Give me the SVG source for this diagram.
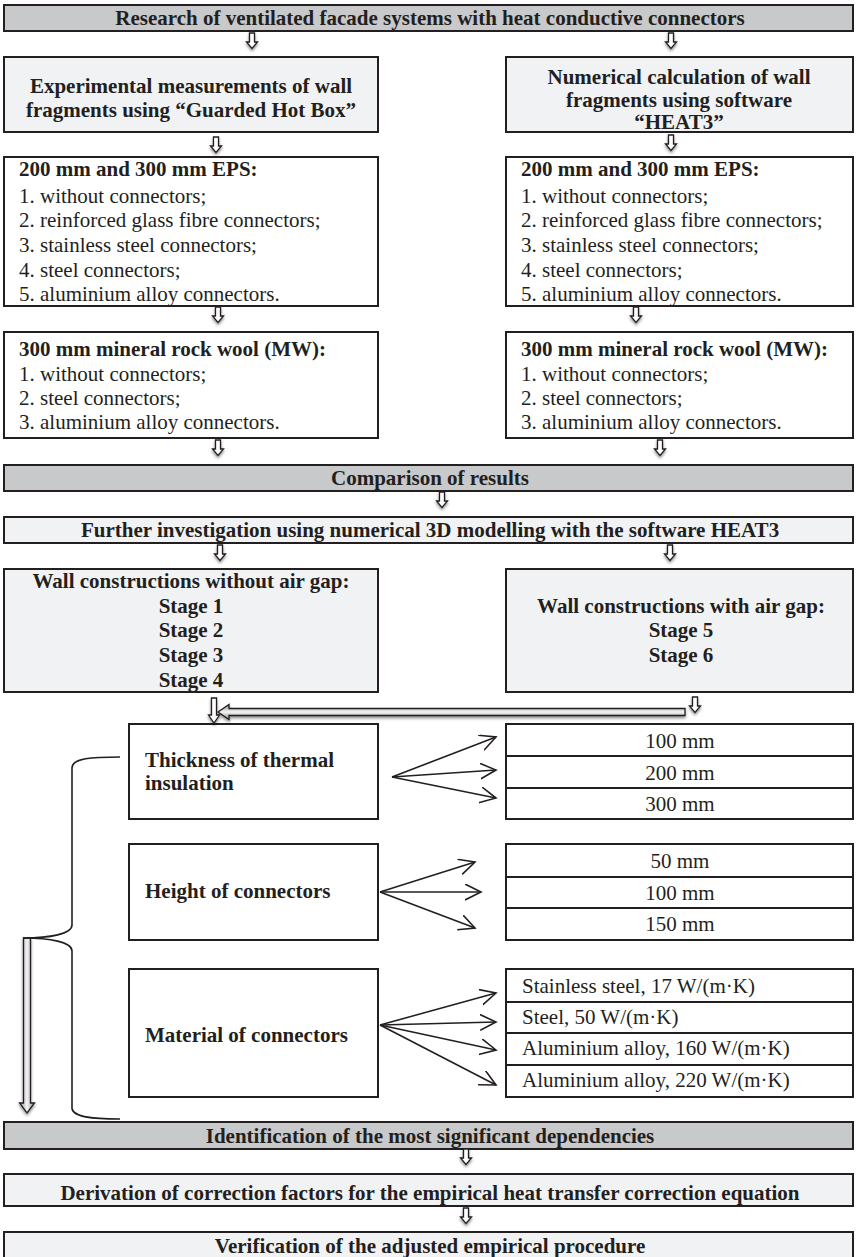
<svg xmlns="http://www.w3.org/2000/svg" xmlns:xlink="http://www.w3.org/1999/xlink" width="856" height="1257" viewBox="0 0 856 1257">
<style>
.grey{fill:#c8c9cb;stroke:#231f20;stroke-width:2}
.light{fill:#f1f2f4;stroke:#231f20;stroke-width:2}
.white{fill:#fff;stroke:#231f20;stroke-width:2}
.b{font-family:"Liberation Serif","Times New Roman",serif;font-weight:bold;font-size:21px;fill:#231f20}
.n{font-family:"Liberation Serif","Times New Roman",serif;font-size:21px;fill:#231f20}
.c{text-anchor:middle}
.fan{fill:none;stroke:#231f20;stroke-width:1.6;marker-end:url(#open)}
</style>
<defs>
<filter id="sh" x="-50%" y="-50%" width="200%" height="200%">
<feDropShadow dx="0" dy="2" stdDeviation="1.5" flood-color="#000" flood-opacity="0.45"/>
</filter>
<path id="da" d="M-2.5,0 h5 v9 h3 l-5.5,6.5 l-5.5,-6.5 h3 z" fill="#fff" stroke="#231f20" stroke-width="1.3"/>
<marker id="open" viewBox="0 0 18 18" refX="16" refY="8" markerWidth="18" markerHeight="18" markerUnits="userSpaceOnUse" orient="auto">
<path d="M0,0 L16,8 L0,16" fill="none" stroke="#231f20" stroke-width="1.6"/>
</marker>
<linearGradient id="hg" x1="0" y1="0" x2="0" y2="1">
<stop offset="0" stop-color="#8a8b8d"/><stop offset="0.5" stop-color="#f4f4f4"/><stop offset="1" stop-color="#8a8b8d"/>
</linearGradient>
<linearGradient id="vg" x1="0" y1="0" x2="1" y2="0">
<stop offset="0" stop-color="#8a8b8d"/><stop offset="0.5" stop-color="#f4f4f4"/><stop offset="1" stop-color="#8a8b8d"/>
</linearGradient>
</defs>

<g id="n-research"><rect class="grey" x="4" y="5" width="849" height="26"/><text class="b c" x="430" y="25">Research of ventilated facade systems with heat conductive connectors</text></g>

<g id="n-experimental"><rect class="light" x="4" y="57" width="374" height="75"/><text class="b c" x="191" y="93">Experimental measurements of wall</text><text class="b c" x="191" y="117">fragments using “Guarded Hot Box”</text></g>
<g id="n-numerical"><rect class="light" x="506" y="57" width="347" height="75"/><text class="b c" x="679" y="84">Numerical calculation of wall</text><text class="b c" x="679" y="107">fragments using software</text><text class="b c" x="679" y="129">“HEAT3”</text></g>

<g id="n-eps-left"><rect class="white" x="4" y="157" width="374" height="149"/>
<text class="b" x="19" y="176">200 mm and 300 mm EPS:</text>
<text class="n" x="19" y="203">1. without connectors;</text>
<text class="n" x="19" y="227">2. reinforced glass fibre connectors;</text>
<text class="n" x="19" y="252">3. stainless steel connectors;</text>
<text class="n" x="19" y="277">4. steel connectors;</text>
<text class="n" x="19" y="301">5. aluminium alloy connectors.</text></g>
<g id="n-eps-right"><rect class="white" x="506" y="157" width="347" height="149"/>
<text class="b" x="521" y="176">200 mm and 300 mm EPS:</text>
<text class="n" x="521" y="203">1. without connectors;</text>
<text class="n" x="521" y="227">2. reinforced glass fibre connectors;</text>
<text class="n" x="521" y="252">3. stainless steel connectors;</text>
<text class="n" x="521" y="277">4. steel connectors;</text>
<text class="n" x="521" y="301">5. aluminium alloy connectors.</text></g>

<g id="n-mw-left"><rect class="white" x="4" y="332" width="374" height="106"/>
<text class="b" x="19" y="356">300 mm mineral rock wool (MW):</text>
<text class="n" x="19" y="381">1. without connectors;</text>
<text class="n" x="19" y="405">2. steel connectors;</text>
<text class="n" x="19" y="429">3. aluminium alloy connectors.</text></g>
<g id="n-mw-right"><rect class="white" x="506" y="332" width="347" height="106"/>
<text class="b" x="521" y="356">300 mm mineral rock wool (MW):</text>
<text class="n" x="521" y="381">1. without connectors;</text>
<text class="n" x="521" y="405">2. steel connectors;</text>
<text class="n" x="521" y="429">3. aluminium alloy connectors.</text></g>

<g id="n-comparison"><rect class="grey" x="4" y="465" width="849" height="26"/><text class="b c" x="430" y="485">Comparison of results</text></g>
<g id="n-further"><rect class="light" x="4" y="517" width="849" height="26"/><text class="b c" x="430" y="537">Further investigation using numerical 3D modelling with the software HEAT3</text></g>

<g id="n-without"><rect class="light" x="4" y="569" width="374" height="123"/>
<text class="b c" x="191" y="588">Wall constructions without air gap:</text>
<text class="b c" x="191" y="613">Stage 1</text><text class="b c" x="191" y="637">Stage 2</text><text class="b c" x="191" y="662">Stage 3</text><text class="b c" x="191" y="687">Stage 4</text></g>
<g id="n-with"><rect class="light" x="506" y="569" width="347" height="123"/>
<text class="b c" x="681" y="613">Wall constructions with air gap:</text>
<text class="b c" x="681" y="637">Stage 5</text><text class="b c" x="681" y="662">Stage 6</text></g>

<g id="n-thickness"><rect class="white" x="129" y="724" width="249" height="95"/><text class="b" x="145" y="767">Thickness of thermal</text><text class="b" x="145" y="790">insulation</text></g>
<g id="n-height"><rect class="white" x="129" y="844" width="249" height="96"/><text class="b" x="145" y="898">Height of connectors</text></g>
<g id="n-material"><rect class="white" x="129" y="969" width="249" height="128"/><text class="b" x="145" y="1042">Material of connectors</text></g>

<g id="n-thickness-values"><rect class="white" x="506" y="724" width="347" height="95"/>
<line x1="506" y1="756" x2="853" y2="756" stroke="#231f20" stroke-width="2"/><line x1="506" y1="788" x2="853" y2="788" stroke="#231f20" stroke-width="2"/>
<text class="n c" x="680" y="748">100 mm</text><text class="n c" x="680" y="780">200 mm</text><text class="n c" x="680" y="811">300 mm</text></g>
<g id="n-height-values"><rect class="white" x="506" y="844" width="347" height="96"/>
<line x1="506" y1="877" x2="853" y2="877" stroke="#231f20" stroke-width="2"/><line x1="506" y1="908" x2="853" y2="908" stroke="#231f20" stroke-width="2"/>
<text class="n c" x="680" y="868">50 mm</text><text class="n c" x="680" y="900">100 mm</text><text class="n c" x="680" y="931">150 mm</text></g>
<g id="n-material-values"><rect class="white" x="506" y="969" width="347" height="128"/>
<line x1="506" y1="1002" x2="853" y2="1002" stroke="#231f20" stroke-width="2"/><line x1="506" y1="1033" x2="853" y2="1033" stroke="#231f20" stroke-width="2"/><line x1="506" y1="1065" x2="853" y2="1065" stroke="#231f20" stroke-width="2"/>
<text class="n" x="522" y="993">Stainless steel, 17 W/(m·K)</text><text class="n" x="522" y="1024">Steel, 50 W/(m·K)</text><text class="n" x="522" y="1055">Aluminium alloy, 160 W/(m·K)</text><text class="n" x="522" y="1087">Aluminium alloy, 220 W/(m·K)</text></g>

<g id="n-identification"><rect class="grey" x="4" y="1122" width="849" height="27"/><text class="b c" x="430" y="1143">Identification of the most significant dependencies</text></g>
<g id="n-derivation"><rect class="light" x="4" y="1174" width="849" height="32"/><text class="b c" x="430" y="1200">Derivation of correction factors for the empirical heat transfer correction equation</text></g>
<g id="n-verification"><rect class="light" x="4" y="1232" width="849" height="32"/><text class="b c" x="430" y="1253">Verification of the adjusted empirical procedure</text></g>

<g id="connectors">
<g filter="url(#sh)">
<use href="#da" x="252" y="33"/><use href="#da" x="671" y="33"/>
<use href="#da" x="216" y="137"/><use href="#da" x="671" y="135"/>
<use href="#da" x="218" y="307"/><use href="#da" x="636" y="307"/>
<use href="#da" x="218" y="440"/><use href="#da" x="660" y="440"/>
<use href="#da" x="442" y="492"/>
<use href="#da" x="220" y="545"/><use href="#da" x="670" y="545"/>
<use href="#da" x="695" y="697"/>
<use href="#da" x="466" y="1149"/><use href="#da" x="466" y="1208"/>
<path d="M211.5,698 h5 v17 h3 l-5.5,8 l-5.5,-8 h3 z" fill="#fff" stroke="#231f20" stroke-width="1.3"/>
<path d="M685,708.5 V715.5 H229 V719.5 L218,712 L229,704.5 V708.5 Z" fill="url(#hg)" stroke="#231f20" stroke-width="1.3"/>
<path d="M23.5,938 H30.5 V1103 H34.5 L27,1113 L19.5,1103 H23.5 Z" fill="url(#vg)" stroke="#231f20" stroke-width="1.3"/>
</g>
<path d="M120,757 C92,757 72,758 72,768 L72,925 C72,934 50,938 23,938 C50,938 72,942 72,951 L72,1108 C72,1117 92,1119 120,1119" fill="none" stroke="#231f20" stroke-width="1.6"/>
<line class="fan" x1="392" y1="777" x2="496" y2="737"/>
<line class="fan" x1="392" y1="777" x2="496" y2="770"/>
<line class="fan" x1="392" y1="777" x2="496" y2="798"/>
<line class="fan" x1="380" y1="892" x2="475" y2="862"/>
<line class="fan" x1="380" y1="892" x2="481" y2="892"/>
<line class="fan" x1="380" y1="892" x2="475" y2="928"/>
<line class="fan" x1="380" y1="1025" x2="496" y2="993"/>
<line class="fan" x1="380" y1="1025" x2="496" y2="1022"/>
<line class="fan" x1="380" y1="1025" x2="496" y2="1050"/>
<line class="fan" x1="380" y1="1025" x2="496" y2="1085"/>
</g>
</svg>
